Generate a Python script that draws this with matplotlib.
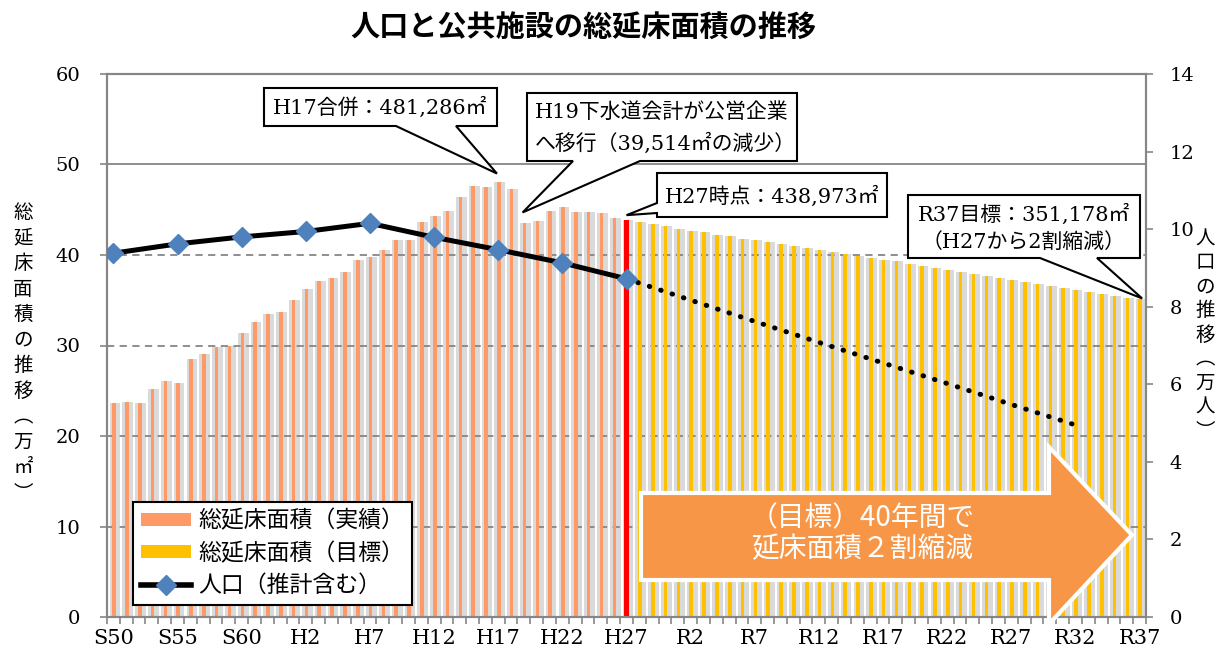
import numpy as np
import matplotlib
matplotlib.use("Agg")
import matplotlib.pyplot as plt
from matplotlib.patches import Polygon, Patch
from matplotlib.lines import Line2D

W, H = 1225, 657

# 年（S50〜R37）
years = list(range(1975, 2056))
tick_labels = ["S50", "S55", "S60", "H2", "H7", "H12", "H17", "H22", "H27",
               "R2", "R7", "R12", "R17", "R22", "R27", "R32", "R37"]

# 総延床面積（実績）S50〜H26（万㎡）
floor_actual = [23.7, 23.8, 23.7, 25.2, 26.1, 25.9, 28.5, 29.1, 29.8, 30.0,
                31.4, 32.6, 33.5, 33.7, 35.0, 36.2, 37.1, 37.5, 38.1, 39.4,
                39.8, 40.6, 41.7, 41.7, 43.6, 44.3, 44.9, 46.4, 47.6, 47.5,
                48.1, 47.3, 43.5, 43.8, 44.9, 45.3, 44.7, 44.8, 44.6, 44.1]
# H27時点
floor_h27 = 43.9
# 総延床面積（目標）H28〜R37
floor_target = [43.7, 43.4, 43.2, 42.9, 42.7, 42.5, 42.2, 42.1, 41.8, 41.7,
                41.4, 41.2, 41.0, 40.8, 40.6, 40.3, 40.1, 39.9, 39.7, 39.4,
                39.3, 39.0, 38.8, 38.6, 38.3, 38.1, 37.9, 37.7, 37.5, 37.2,
                37.0, 36.8, 36.6, 36.4, 36.1, 35.9, 35.7, 35.5, 35.2, 35.1]

# 人口（万人）
pop_years = [1975, 1980, 1985, 1990, 1995, 2000, 2005, 2010, 2015]
pop = [9.38, 9.62, 9.80, 9.94, 10.15, 9.79, 9.47, 9.13, 8.72]
# 人口（推計）
proj_years = [2015, 2020, 2025, 2030, 2035, 2040, 2045, 2050]
proj = [8.72, 8.17, 7.62, 7.08, 6.55, 6.02, 5.48, 4.95]

ORANGE = "#FF9966"
YELLOW = "#FFC000"
SHADOW = "#DADADA"
GRAY = "#868686"
BLUE = "#4F81BD"

SERIF = ["DejaVu Serif", "Noto Sans CJK JP"]
plt.rcParams["font.family"] = ["Noto Sans CJK JP", "DejaVu Sans"]

fig = plt.figure(figsize=(W / 100, H / 100), dpi=100)
ax = fig.add_axes([107 / W, 1 - 617 / H, (1146 - 107) / W, 543 / H])
ax2 = ax.twinx()

x0 = years[0]
xa = np.array(years[:len(floor_actual)]) - x0
xh = years[len(floor_actual)] - x0
xt = np.array(years[len(floor_actual) + 1:]) - x0
x_all = np.array(years) - x0
floor_all = floor_actual + [floor_h27] + floor_target

# 影（灰色）
ax.bar(x_all + 0.12, floor_all, width=0.84, color=SHADOW, zorder=1)
# グリッド
for v in [10, 20, 30, 40]:
    ax.axhline(v, color=GRAY, lw=1.3, ls=(0, (4, 3)), zorder=2)
ax.axhline(50, color=GRAY, lw=1.3, zorder=2)
# 実績・目標
ax.bar(xa + 0.05, floor_actual, width=0.28, color=ORANGE, zorder=3)
ax.bar(xt + 0.05, floor_target, width=0.28, color=YELLOW, zorder=3)
ax.bar(xh, floor_h27, width=0.45, color="#FF0000", zorder=4)

ax.set_xlim(-0.5, len(years) - 0.5)
ax.set_ylim(0, 60)
ax.set_yticks(range(0, 61, 10))
ax2.set_ylim(0, 14)
ax2.set_yticks(range(0, 15, 2))

ax.set_xticks(range(0, len(years), 5))
ax.set_xticklabels(tick_labels, family=SERIF, fontsize=15)
ax.set_xticks(np.arange(-0.5, len(years), 1), minor=True)
ax.tick_params(axis="x", which="major", length=0, pad=9)
ax.tick_params(axis="x", which="minor", length=5, color=GRAY, width=1.2)
ax.tick_params(axis="y", length=5, color=GRAY, width=1.2, pad=14, labelsize=14)
ax2.tick_params(axis="y", length=5, color=GRAY, width=1.2, pad=12, labelsize=14)
for lab in ax.get_yticklabels() + ax2.get_yticklabels():
    lab.set_family(SERIF)

for a in (ax, ax2):
    for s in a.spines.values():
        s.set_color(GRAY)
        s.set_linewidth(1.5)

# 人口
px_pop = np.array(pop_years) - x0
px_proj = np.array(proj_years) - x0
ax2.plot(px_proj, proj, color="black", lw=3.6, ls=(0, (0.1, 2.3)),
         dash_capstyle="round", zorder=5)
ax2.plot(px_pop, pop, color="black", lw=3.6, marker="D", ms=10.5,
         mfc=BLUE, mec=BLUE, zorder=6)


def fx(x):
    return x / W


def fy(y):
    return 1 - y / H


def data_px(a, x, y):
    d = a.transData.transform((x, y))
    return (d[0], H - d[1])


def bubble(box, base, tip, side="bottom"):
    bx0, by0, bx1, by1 = box
    if side == "bottom":
        pts = [(bx0, by0), (bx1, by0), (bx1, by1), (base[1], by1), tip,
               (base[0], by1), (bx0, by1)]
    else:
        pts = [(bx0, by0), (bx1, by0), (bx1, by1), (bx0, by1), (bx0, base[1]),
               tip, (bx0, base[0])]
    poly = Polygon([(fx(p[0]), fy(p[1])) for p in pts], closed=True,
                   transform=fig.transFigure, facecolor="white",
                   edgecolor="black", lw=1.5, zorder=10)
    fig.add_artist(poly)


i17 = 2005 - x0
i19 = 2007 - x0
bubble((264, 88, 497, 126), (396, 456),
       data_px(ax, i17 - 0.1, floor_actual[i17] + 0.9))
fig.text(fx(380), fy(107), "H17合併：481,286㎡", family=SERIF, fontsize=15,
         ha="center", va="center", zorder=11)

bubble((527, 93, 797, 161), (573, 640),
       data_px(ax, i19 - 0.1, floor_actual[i19] + 1.2))
fig.text(fx(535), fy(112), "H19下水道会計が公営企業", family=SERIF, fontsize=15,
         ha="left", va="center", zorder=11)
fig.text(fx(535), fy(143), "へ移行（39,514㎡の減少）", family=SERIF, fontsize=15,
         ha="left", va="center", zorder=11)

bubble((657, 173, 887, 217), (203, 213),
       data_px(ax, xh, floor_h27 + 0.5), side="left")
fig.text(fx(772), fy(196), "H27時点：438,973㎡", family=SERIF, fontsize=15,
         ha="center", va="center", zorder=11)

bubble((908, 195, 1140, 258), (1040, 1097),
       data_px(ax, x_all[-1] + 0.2, floor_target[-1] + 0.1))
fig.text(fx(1024), fy(214), "R37目標：351,178㎡", family=SERIF, fontsize=15,
         ha="center", va="center", zorder=11)
fig.text(fx(1024), fy(242), "（H27から2割縮減）", family=SERIF, fontsize=15,
         ha="center", va="center", zorder=11)

# 目標の矢印
arrow = [(641, 493), (1049, 493), (1049, 447), (1132, 535), (1049, 624),
         (1049, 580), (641, 580)]
fig.add_artist(Polygon([(fx(p[0]), fy(p[1])) for p in arrow], closed=True,
                       transform=fig.transFigure, facecolor="#F79646",
                       edgecolor="white", lw=3, zorder=8))
fig.text(fx(862), fy(518), "（目標）40年間で", color="white", fontsize=20,
         ha="center", va="center", zorder=9)
fig.text(fx(862), fy(549), "延床面積２割縮減", color="white", fontsize=20,
         ha="center", va="center", zorder=9)

# 凡例
handles = [Patch(facecolor=ORANGE, edgecolor="none"),
           Patch(facecolor=YELLOW, edgecolor="none"),
           Line2D([], [], color="black", lw=4, marker="D", ms=10,
                  mfc=BLUE, mec=BLUE)]
labels = ["総延床面積（実績）", "総延床面積（目標）", "人口（推計含む）"]
leg = fig.legend(handles, labels, loc="lower left",
                 bbox_to_anchor=(fx(133), fy(605)), borderaxespad=0,
                 fancybox=False, framealpha=1, edgecolor="black",
                 prop={"family": "Noto Sans CJK JP", "size": 16.5},
                 handlelength=2.2, handleheight=0.5, handletextpad=0.3,
                 labelspacing=0.4, borderpad=0.35)
leg.get_frame().set_linewidth(1.5)
leg.set_zorder(12)

# タイトル・軸ラベル（縦書き）
fig.text(fx(583), fy(27), "人口と公共施設の総延床面積の推移", fontsize=21,
         fontweight="bold", ha="center", va="center")
fig.text(fx(23), fy(353), "\n".join("総延床面積の推移︵万㎡︶"), fontsize=14,
         ha="center", va="center", linespacing=1.28)
fig.text(fx(1205), fy(335), "\n".join("人口の推移︵万人︶"), fontsize=14,
         ha="center", va="center", linespacing=1.19)

fig.savefig("out.png", dpi=100)
